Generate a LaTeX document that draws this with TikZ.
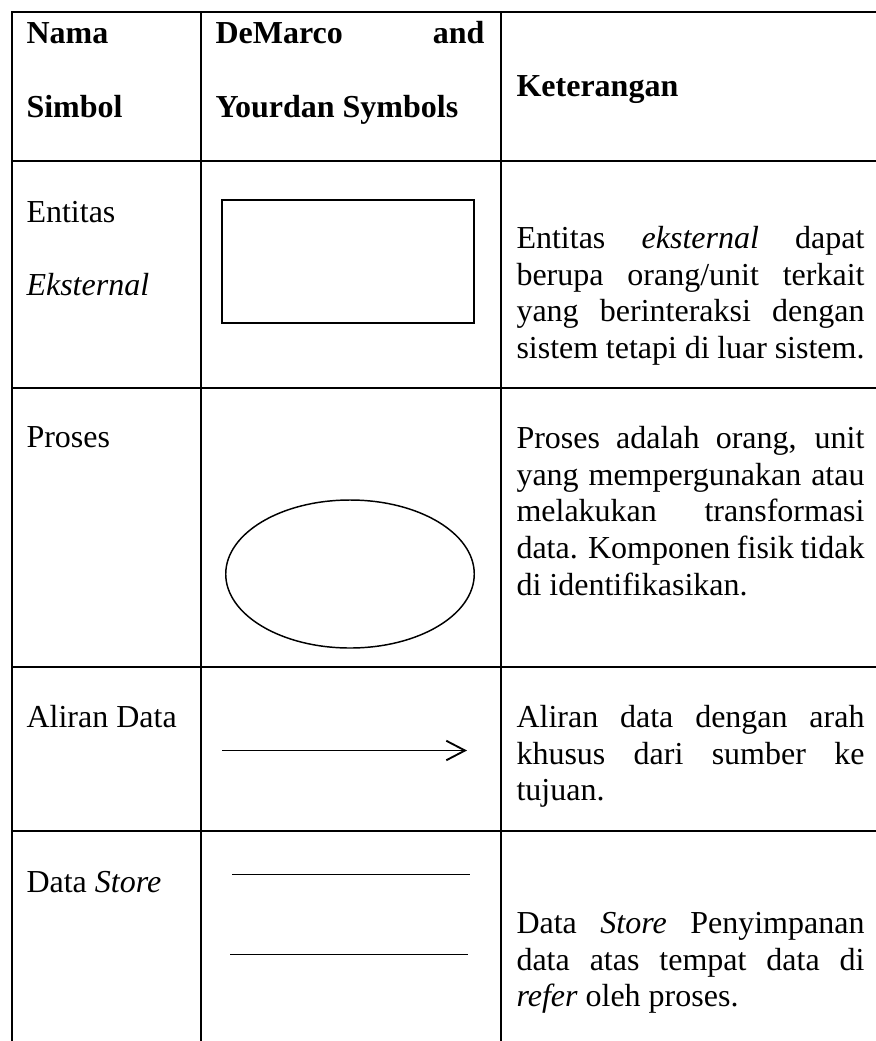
\documentclass[tikz,border=0pt]{standalone}
\usepackage{fontspec}
\setmainfont{Liberation Serif}
\usetikzlibrary{shapes.geometric,arrows.meta}
\newlength\kw
\setlength\kw{130.5pt}
% one justified line of the description column
\newcommand\kline[3]{\node[txt] (#1) at (516,#2) {\makebox[\kw][s]{#3}};}
% last (ragged) line of a paragraph
\newcommand\kend[3]{\node[txt] (#1) at (516,#2) {#3};}
\begin{document}
\begin{tikzpicture}[x=0.375pt,y=-0.375pt,
  grid/.style={line width=0.75pt},
  sym/.style={line width=0.55pt},
  store/.style={line width=0.5pt},
  flow/.style={line width=0.7pt},
  txt/.style={anchor=base west,inner sep=0pt,font=\fontsize{12}{13.8}\selectfont},
  head/.style={txt,font=\fontsize{12}{13.8}\selectfont\bfseries}]
\useasboundingbox (0,0) rectangle (876,1041);

% table rules
\draw[grid] (876,12) -- (12,12) -- (12,1041);
\draw[grid] (201,12) -- (201,1041);
\draw[grid] (500.7,12) -- (500.7,1041);
\foreach \yy in {161,388,667,831}
  \draw[grid] (12,\yy) -- (876,\yy);

% header row
\node[head] (h1a) at (26,43) {Nama};
\node[head] (h1b) at (26,117) {Simbol};
\node[head] (h2a) at (215,43) {DeMarco};
\node[head,anchor=base east] (h2b) at (485,43) {and};
\node[head] (h2c) at (215,117) {Yourdan Symbols};
\node[head] (h3) at (516,96) {Keterangan};

% row: external entity
\node[txt] (n1a) at (26,222) {Entitas};
\node[txt] (n1b) at (26,295) {\textit{Eksternal}};
\node[sym,draw,rectangle,minimum width=94.5pt,minimum height=46.1pt,inner sep=0pt] (ent) at (348,261.5) {};
\kline{k1a}{248}{Entitas \textit{eksternal} dapat}
\kline{k1b}{285}{berupa orang/unit terkait}
\kline{k1c}{321}{yang berinteraksi dengan}
\kline{k1d}{358}{sistem tetapi di luar sistem.}

% row: process
\node[txt] (n2) at (26,447) {Proses};
\node[sym,draw,ellipse,minimum width=93.2pt,minimum height=55.5pt,inner sep=0pt] (proc) at (350,574) {};
\kline{k2a}{448}{Proses adalah orang, unit}
\kline{k2b}{485}{yang mempergunakan atau}
\kline{k2c}{521}{melakukan transformasi}
\kline{k2d}{558}{data. Komponen fisik tidak}
\kend{k2e}{595}{di identifikasikan.}

% row: data flow
\node[txt] (n3) at (26,727) {Aliran Data};
\coordinate (fa) at (222,750.5);
\coordinate (fb) at (467,750.5);
\draw[flow,-{Straight Barb[length=7pt,width=7.3pt]}] (fa) -- (fb);
\kline{k3a}{727}{Aliran data dengan arah}
\kline{k3b}{764}{khusus dari sumber ke}
\kend{k3c}{800}{tujuan.}

% row: data store
\node[txt] (n4) at (26,892) {Data \textit{Store}};
\coordinate (s1a) at (232,874.7);
\coordinate (s1b) at (470,874.7);
\coordinate (s2a) at (230,954.3);
\coordinate (s2b) at (468,954.3);
\draw[store] (s1a) -- (s1b);
\draw[store] (s2a) -- (s2b);
\kline{k4a}{933}{Data \textit{Store} Penyimpanan}
\kline{k4b}{970}{data atas tempat data di}
\kend{k4c}{1006}{\textit{refer} oleh proses.}
\end{tikzpicture}
\end{document}
